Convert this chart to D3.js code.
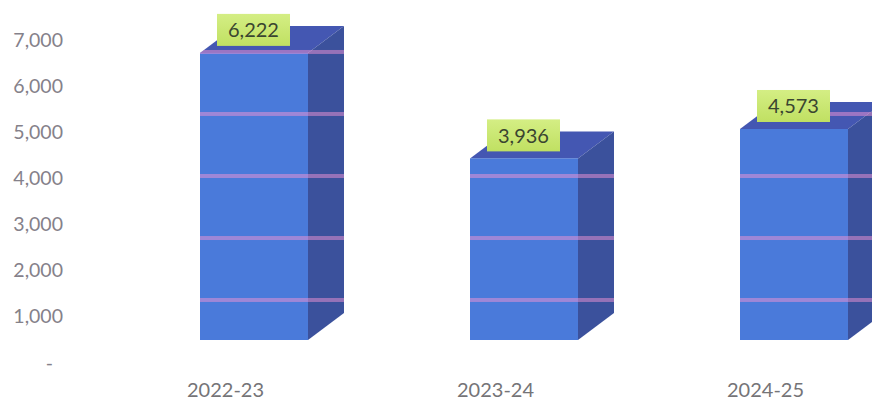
<!DOCTYPE html>
<html>
<head>
<meta charset="utf-8">
<script src="https://cdn.jsdelivr.net/npm/d3@7"></script>
<style>
  body { margin: 0; background: #fff; }
  svg { display: block; }
  .tick text { font-family: Lato, "Open Sans", sans-serif; }
</style>
</head>
<body>
<svg class="chart" width="872" height="404"></svg>
<script>
// values
var years = ["2022-23", "2023-24", "2024-25"];
var values = [6222, 3936, 4573];
var yTicks = [0, 1000, 2000, 3000, 4000, 5000, 6000, 7000];
var stripes = [1344, 2687, 4031, 5375, 6719];   // pinkish lines seen across the bars

var svg = d3.select(".chart"),
    width = +svg.attr("width"),
    height = +svg.attr("height");

var x = d3.scalePoint().domain(years).range([225, 765]),
    y = d3.scaleLinear().domain([0, 7000]).range([362, 39]);

var fmt = d3.format(",");
var barW = 108, shiftX = 29, lift = 22, depthX = 36, depthY = 27;

// y axis, labels only
var yAxis = svg.append("g")
    .attr("transform", "translate(63,0)")
    .call(d3.axisLeft(y).tickValues(yTicks).tickSize(0).tickPadding(0)
      .tickFormat(function(d) { return d === 0 ? "-" : fmt(d); }));
yAxis.select(".domain").remove();
yAxis.selectAll("text")
    .attr("fill", "#85818a")
    .style("font-size", "19.5px")
    .attr("dy", "0.36em");
yAxis.selectAll(".tick").filter(function(d) { return d === 0; }).select("text")
    .attr("dx", "-10");

// x axis, labels only
var xAxis = svg.append("g")
    .attr("transform", "translate(0,390)")
    .call(d3.axisBottom(x).tickSize(0).tickPadding(0));
xAxis.select(".domain").remove();
xAxis.selectAll("text")
    .attr("fill", "#757477")
    .attr("dy", "0.36em")
    .style("font-size", "20px");

var bars = years.map(function(c, i) {
  var x0 = x(c) + shiftX - barW / 2;
  return {year: c, value: values[i], x0: x0, x1: x0 + barW,
          top: y(values[i]) - lift, bottom: y(0) - lift};
});

function shape(d) {
  return "M" + d.x0 + "," + d.bottom +
    "L" + d.x0 + "," + d.top +
    "L" + (d.x0 + depthX) + "," + (d.top - depthY) +
    "L" + (d.x1 + depthX) + "," + (d.top - depthY) +
    "L" + (d.x1 + depthX) + "," + (d.bottom - depthY) +
    "L" + d.x1 + "," + d.bottom + "Z";
}

var defs = svg.append("defs");
bars.forEach(function(d, i) {
  defs.append("clipPath").attr("id", "clip" + i)
    .append("path").attr("d", shape(d));
});

var grad = defs.append("linearGradient").attr("id", "lbl")
    .attr("x1", 0).attr("y1", 0).attr("x2", 0).attr("y2", 1);
grad.append("stop").attr("offset", "0%").attr("stop-color", "#d4ee84");
grad.append("stop").attr("offset", "100%").attr("stop-color", "#c0e062");

var bar = svg.selectAll(".bar")
  .data(bars)
  .enter().append("g")
    .attr("class", "bar");

// top face
bar.append("path")
    .attr("fill", "#4457b2")
    .attr("d", function(d) {
      return "M" + d.x0 + "," + d.top +
        "L" + (d.x0 + depthX) + "," + (d.top - depthY) +
        "L" + (d.x1 + depthX) + "," + (d.top - depthY) +
        "L" + d.x1 + "," + d.top + "Z";
    });

// side face
bar.append("path")
    .attr("fill", "#3b519c")
    .attr("d", function(d) {
      return "M" + d.x1 + "," + d.top +
        "L" + (d.x1 + depthX) + "," + (d.top - depthY) +
        "L" + (d.x1 + depthX) + "," + (d.bottom - depthY) +
        "L" + d.x1 + "," + d.bottom + "Z";
    });

// front face
bar.append("rect")
    .attr("fill", "#4a7ada")
    .attr("x", function(d) { return d.x0; })
    .attr("y", function(d) { return d.top; })
    .attr("width", barW)
    .attr("height", function(d) { return d.bottom - d.top; });

// stripes over bars
bar.append("g")
    .attr("clip-path", function(d, i) { return "url(#clip" + i + ")"; })
  .selectAll("rect")
  .data(stripes)
  .enter().append("rect")
    .attr("x", 0)
    .attr("width", width)
    .attr("y", function(s) { return y(s) - 2; })
    .attr("height", 4)
    .attr("fill", "#f294d4")
    .attr("fill-opacity", 0.5);

// value labels
var lbl = bar.append("g")
    .attr("transform", function(d) { return "translate(" + (d.x0 + 17) + "," + (d.top - 39) + ")"; });
lbl.append("rect")
    .attr("width", 73)
    .attr("height", 32)
    .attr("fill", "url(#lbl)");
lbl.append("text")
    .attr("x", 36.5)
    .attr("y", 16)
    .attr("dy", "0.36em")
    .attr("text-anchor", "middle")
    .attr("fill", "#3a4530")
    .style("font", "20px Lato, 'Open Sans', sans-serif")
    .text(function(d) { return fmt(d.value); });
</script>
</body>
</html>
